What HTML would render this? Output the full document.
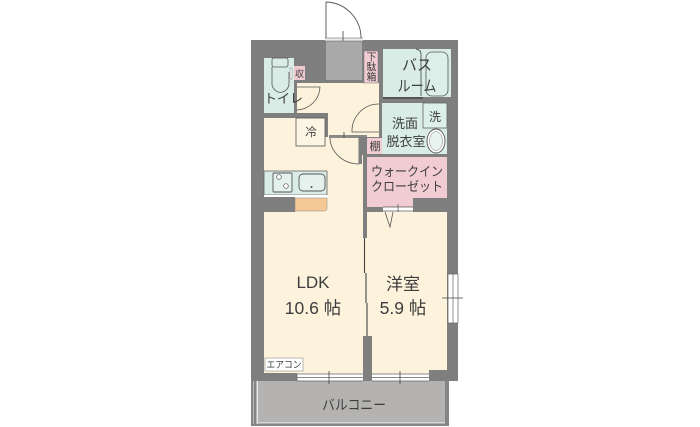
<!DOCTYPE html>
<html lang="ja"><head><meta charset="utf-8"><style>
html,body{margin:0;padding:0;background:#fff;width:700px;height:427px;overflow:hidden}
svg{display:block}
text{font-family:"Liberation Sans","Noto Sans CJK JP",sans-serif;fill:#3d3d3d}
</style></head><body>
<svg width="700" height="427" viewBox="0 0 700 427" xmlns="http://www.w3.org/2000/svg">
<!-- balcony -->
<rect x="251" y="381" width="198" height="45" fill="#858585"/>
<rect x="258" y="381" width="187" height="41" fill="#b4b3b1"/>
<rect x="256.500" y="381" width="1.500" height="43" fill="#e8e8e8"/>
<rect x="253" y="381" width="1" height="43" fill="#bbb"/>
<rect x="257" y="422" width="188" height="1.500" fill="#d6d6d6"/>
<!-- outer wall -->
<rect x="251" y="40" width="207" height="341" fill="#7f7f7f"/>
<!-- hall floor & LDK -->
<rect x="297" y="83" width="82" height="54" fill="#fdf3dc"/>
<rect x="264" y="118" width="99" height="256" fill="#fdf3dc"/>
<rect x="329" y="137" width="34" height="30" fill="#fdf3dc"/>
<!-- walls in hall -->
<rect x="264" y="113" width="64" height="5" fill="#7f7f7f"/>
<rect x="325" y="113" width="3" height="24" fill="#7f7f7f"/>
<!-- entry -->
<rect x="326" y="38" width="36" height="42" fill="#a9a9a9"/>
<rect x="325" y="38" width="38" height="3" fill="#ececec"/>
<path d="M326 38V2M326 2A36 36 0 0 1 361 38" fill="none" stroke="#555" stroke-width=".9"/>
<path d="M343 31V41" stroke="#444" stroke-width=".8"/>
<path d="M325 38H363M325 41H363" stroke="#555" stroke-width=".6"/>
<!-- toilet -->
<rect x="264" y="58" width="30" height="55" fill="#d9ece6"/>
<rect x="272" y="58" width="16" height="9" rx="2" fill="none" stroke="#555" stroke-width=".8"/>
<path d="M272 67V85A9 11 0 0 0 289 85V72" fill="none" stroke="#555" stroke-width=".8"/>
<rect x="290" y="68" width="2" height="11" fill="#fff" stroke="#666" stroke-width=".4"/>
<rect x="294" y="66" width="11" height="14" fill="#eec9cd"/>
<path d="M297 110A24 24 0 0 0 320 87H297" fill="#fdf3dc" stroke="#555" stroke-width=".8"/>
<rect x="294" y="84" width="3" height="30" fill="#7f7f7f"/>
<!-- shoebox -->
<rect x="364" y="51" width="14" height="32" fill="#f1ccd2" stroke="#777" stroke-width=".5"/>
<!-- bath -->
<rect x="383" y="49" width="68" height="48" fill="#d9ece6"/>
<path d="M416 49Q421 50 421 54V96" fill="none" stroke="#555" stroke-width=".9"/>
<rect x="426" y="52" width="22" height="44" rx="6" fill="#dcefe9" stroke="#555" stroke-width=".8"/>
<rect x="383" y="97" width="40" height="2" fill="#555"/>
<!-- washroom -->
<rect x="382" y="103" width="65" height="51" fill="#d9ece6"/>
<rect x="423" y="103" width="24" height="25" fill="#dcefe9" stroke="#666" stroke-width=".8"/>
<ellipse cx="436" cy="141" rx="9" ry="12" fill="#fff" stroke="#555" stroke-width=".9"/>
<ellipse cx="436" cy="141" rx="6.500" ry="9.500" fill="#e8f3ef" stroke="#777" stroke-width=".5"/>
<rect x="379" y="101" width="3" height="37" fill="#7f7f7f"/>
<path d="M379 104A27 27 0 0 0 352 132H379" fill="#fdf3dc" stroke="#555" stroke-width=".8"/>
<rect x="367" y="138" width="15" height="16" fill="#f1ccd2"/>
<rect x="329" y="135" width="38" height="3" fill="#8a8a8a"/>
<path d="M344 132V139" stroke="#444" stroke-width=".8"/>
<!-- closet door to hall -->
<path d="M330 138A29 27 0 0 0 359 164V138" fill="#fdf3dc" stroke="#555" stroke-width=".8"/>
<rect x="359" y="137" width="3" height="27" fill="#7f7f7f"/>
<rect x="362" y="137" width="5" height="18" fill="#7f7f7f"/>
<!-- fridge -->
<rect x="296" y="118" width="29" height="28" fill="#fdf5e4" stroke="#555" stroke-width=".8"/>
<!-- kitchen -->
<rect x="264" y="171" width="63" height="24" fill="#d9ece6" stroke="#666" stroke-width=".8"/>
<rect x="264" y="195" width="64" height="3" fill="#fff"/>
<rect x="273" y="173" width="19" height="19" rx="1" fill="#e4f1ed" stroke="#555" stroke-width=".9"/>
<circle cx="279" cy="177" r="2.300" fill="#fff" stroke="#555" stroke-width=".7"/>
<circle cx="286" cy="186" r="2.300" fill="#fff" stroke="#555" stroke-width=".7"/>
<rect x="299" y="174" width="26" height="17" rx="4" fill="#e4f1ed" stroke="#555" stroke-width=".9"/>
<circle cx="311.500" cy="187" r="1" fill="#555"/>
<rect x="251" y="197" width="44" height="15" fill="#7f7f7f"/>
<path d="M295 198H327V208Q327 211 324 211H295Z" fill="#f5c896" stroke="#888" stroke-width=".5"/>
<!-- walk-in closet -->
<rect x="367" y="157" width="80" height="41" fill="#f1ccd2"/>
<rect x="367" y="197" width="46" height="10" fill="#f1ccd2"/>
<rect x="413" y="198" width="34" height="14" fill="#7f7f7f"/>
<rect x="367" y="207" width="16" height="5" fill="#7f7f7f"/>
<rect x="383" y="207" width="30" height="5" fill="#fff"/>
<path d="M383 207H413M383 211H413M398 204V213" stroke="#555" stroke-width=".7" fill="none"/>
<!-- western room -->
<rect x="367" y="212" width="80" height="162" fill="#fdf3dc"/>
<path d="M385 212L390 227L393 212" fill="none" stroke="#555" stroke-width=".8"/>
<!-- partition -->
<rect x="362" y="238" width="6" height="100" fill="#fdf3dc"/>
<rect x="363" y="155" width="4" height="83" fill="#7f7f7f"/>
<path d="M364.500 238V273M366 273V303M367 303V337" stroke="#444" stroke-width="1.100" fill="none"/>
<rect x="363" y="336" width="9" height="45" fill="#7f7f7f"/>
<!-- right window -->
<rect x="448" y="274" width="10" height="49" fill="#fff"/>
<path d="M448 274H458M448 323H458M448 274V323M453 274V323M458 274V323" stroke="#666" stroke-width=".7" fill="none"/>
<path d="M442 298H463" stroke="#444" stroke-width=".8"/>
<!-- bottom windows -->
<rect x="251" y="373" width="46" height="8" fill="#7f7f7f"/>
<rect x="297" y="374" width="66" height="7" fill="#fff"/>
<path d="M297 374H363M297 377.500H363M297 381H363M297 374V381" stroke="#666" stroke-width=".7" fill="none"/>
<path d="M329 371V384" stroke="#444" stroke-width=".8"/>
<rect x="372" y="374" width="57" height="7" fill="#fff"/>
<path d="M372 374H429M372 377.500H429M372 381H429" stroke="#666" stroke-width=".7" fill="none"/>
<path d="M400 371V384" stroke="#444" stroke-width=".8"/>
<rect x="429" y="370" width="18" height="11" fill="#7f7f7f"/>
<rect x="265" y="358" width="38" height="13" fill="#fff" stroke="#777" stroke-width=".5"/>
<!-- labels -->
<text x="264" y="103" font-size="13" textLength="39" lengthAdjust="spacingAndGlyphs">トイレ</text>
<text x="299.500" y="77" font-size="9" text-anchor="middle">収</text>
<text x="371.500" y="60.500" font-size="10" text-anchor="middle">下</text>
<text x="371.500" y="70.500" font-size="10" text-anchor="middle">駄</text>
<text x="371.500" y="80.500" font-size="10" text-anchor="middle">箱</text>
<text x="417" y="70" font-size="15" text-anchor="middle">バス</text>
<text x="417" y="91" font-size="15" text-anchor="middle" textLength="39" lengthAdjust="spacingAndGlyphs">ルーム</text>
<text x="405" y="128" font-size="13" text-anchor="middle">洗面</text>
<text x="406" y="146" font-size="13" text-anchor="middle">脱衣室</text>
<text x="435" y="121" font-size="12" text-anchor="middle">洗</text>
<text x="375" y="150" font-size="11" text-anchor="middle">棚</text>
<text x="311" y="136" font-size="11.500" text-anchor="middle">冷</text>
<text x="407" y="176" font-size="13" text-anchor="middle" textLength="72" lengthAdjust="spacingAndGlyphs">ウォークイン</text>
<text x="407" y="191" font-size="13" text-anchor="middle" textLength="72" lengthAdjust="spacingAndGlyphs">クローゼット</text>
<text x="313" y="288" font-size="17" text-anchor="middle">LDK</text>
<text x="313" y="314" font-size="17.500" text-anchor="middle">10.6 帖</text>
<text x="403" y="290" font-size="17" text-anchor="middle">洋室</text>
<text x="403" y="314" font-size="17.500" text-anchor="middle">5.9 帖</text>
<text x="284" y="368" font-size="9.500" text-anchor="middle" textLength="35" lengthAdjust="spacingAndGlyphs">エアコン</text>
<text x="354" y="410" font-size="14" text-anchor="middle" textLength="64" lengthAdjust="spacingAndGlyphs">バルコニー</text>
</svg>
</body></html>
